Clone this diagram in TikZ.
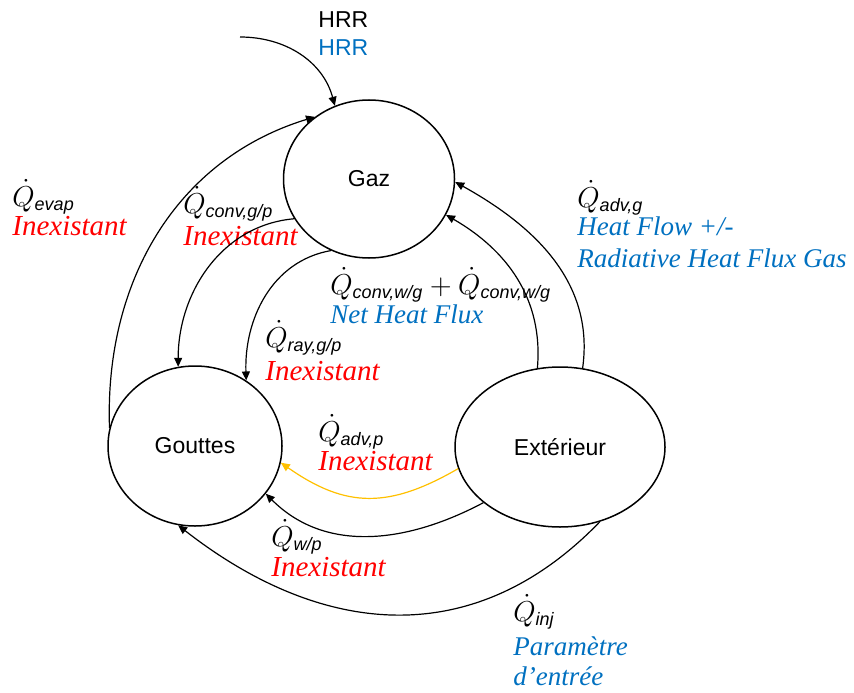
\documentclass[tikz,border=0pt]{standalone}
\usepackage{amsmath}
\usepackage{fontspec}
\setmainfont{Liberation Sans}
\newfontfamily\serifface{Liberation Serif}
\usetikzlibrary{arrows.meta,positioning,shapes.geometric}
\definecolor{rouge}{HTML}{FF0000}
\definecolor{bleu}{HTML}{0070C0}
\definecolor{jaune}{HTML}{FFC000}
\newcommand{\qdot}[1]{\dot{Q}_{\text{\fontsize{9}{10}\selectfont\itshape #1}}}
\tikzset{
  etat/.style={ellipse, draw=black, line width=0.75pt, inner sep=0pt,
               font=\fontsize{11.5}{14}\selectfont},
  flow/.style={-{Triangle[length=4.5pt,width=4pt]}, draw=black, line width=0.6pt},
  advflow/.style={flow, draw=jaune},
  qlbl/.style={anchor=base west, inner sep=0pt, font=\fontsize{14}{17}\selectfont},
  hrrlbl/.style={anchor=base west, inner sep=0pt, font=\fontsize{11.5}{14}\selectfont},
  nonlbl/.style={anchor=base west, inner sep=0pt, text=rouge,
                 font=\serifface\itshape\fontsize{14.5}{17}\selectfont},
  paramlbl/.style={nonlbl, text=bleu, font=\serifface\itshape\fontsize{13.5}{16}\selectfont}
}
\begin{document}
\begin{tikzpicture}[x=0.5pt, y=0.5pt]
  \useasboundingbox (0,0) rectangle (854,692);
  % the three states
  \node[etat, minimum width=85.5pt, minimum height=79pt] (gaz) at (369,513) {Gaz};
  \node[etat, minimum width=87pt, minimum height=80pt] (gouttes) at (195,246) {Gouttes};
  \node[etat, minimum width=105pt, minimum height=80pt] (ext) at (560,245) {Extérieur};
  % HRR input
  \coordinate (hrrsrc) at (240,655);
  \node[hrrlbl] (hrr) at (318,664) {HRR};
  \node[hrrlbl, text=bleu] (hrrb) at ([yshift=-14pt]hrr.base west) {HRR};
  \draw[flow] (hrrsrc) to[out=0,in=105] (gaz.115);
  % labels
  \node[qlbl] (evap) at (12,486) {$\qdot{evap}$};
  \node[nonlbl] (evapn) at ([yshift=-14.5pt]evap.base west) {Inexistant};
  \node[qlbl] (convgp) at (183,479) {$\qdot{conv,g/p}$};
  \node[nonlbl] (convgpn) at ([yshift=-16pt]convgp.base west) {Inexistant};
  \node[qlbl] (convwg) at (330,398) {$\qdot{conv,w/g}+\qdot{conv,w/g}$};
  \node[paramlbl] (convwgp) at ([yshift=-14.5pt]convwg.base west) {Net Heat Flux};
  \node[qlbl] (raygp) at (265,345) {$\qdot{ray,g/p}$};
  \node[nonlbl] (raygpn) at ([yshift=-16.5pt]raygp.base west) {Inexistant};
  \node[qlbl] (advg) at (577,485) {$\qdot{adv,g}$};
  \node[paramlbl] (advgp) at ([yshift=-14pt]advg.base west) {Heat Flow +/-};
  \node[paramlbl] (advgq) at ([yshift=-16pt]advgp.base west) {Radiative Heat Flux Gas};
  \node[qlbl] (advp) at (318,251) {$\qdot{adv,p}$};
  \node[nonlbl] (advpn) at ([yshift=-14.5pt]advp.base west) {Inexistant};
  \node[qlbl] (wp) at (271,146) {$\qdot{w/p}$};
  \node[nonlbl] (wpn) at ([yshift=-15pt]wp.base west) {Inexistant};
  \node[qlbl] (inj) at (513,71) {$\qdot{inj}$};
  \node[paramlbl] (injp) at ([yshift=-17pt]inj.base west) {Paramètre};
  \node[paramlbl] (injq) at ([yshift=-15pt]injp.base west) {d’entrée};
  % flows
  \draw[flow] (gouttes.168) to[out=92,in=197] (gaz.131);
  \draw[flow] (gaz.208) to[out=185,in=90] (gouttes.102);
  \draw[flow] (gaz.242) to[out=190,in=92] (gouttes.52);
  \draw[flow] (ext.106) to[out=85,in=-30] (gaz.335);
  \draw[flow] (ext.74) to[out=82,in=-29] (gaz.358);
  \draw[advflow] (ext.192) to[out=210,in=-35,looseness=1.15] (gouttes.349);
  \draw[flow] (ext.216) to[out=208,in=-45] (gouttes.326);
  \draw[flow] (ext.298) to[out=226,in=-38,looseness=1.1] (gouttes.258);
\end{tikzpicture}
\end{document}
